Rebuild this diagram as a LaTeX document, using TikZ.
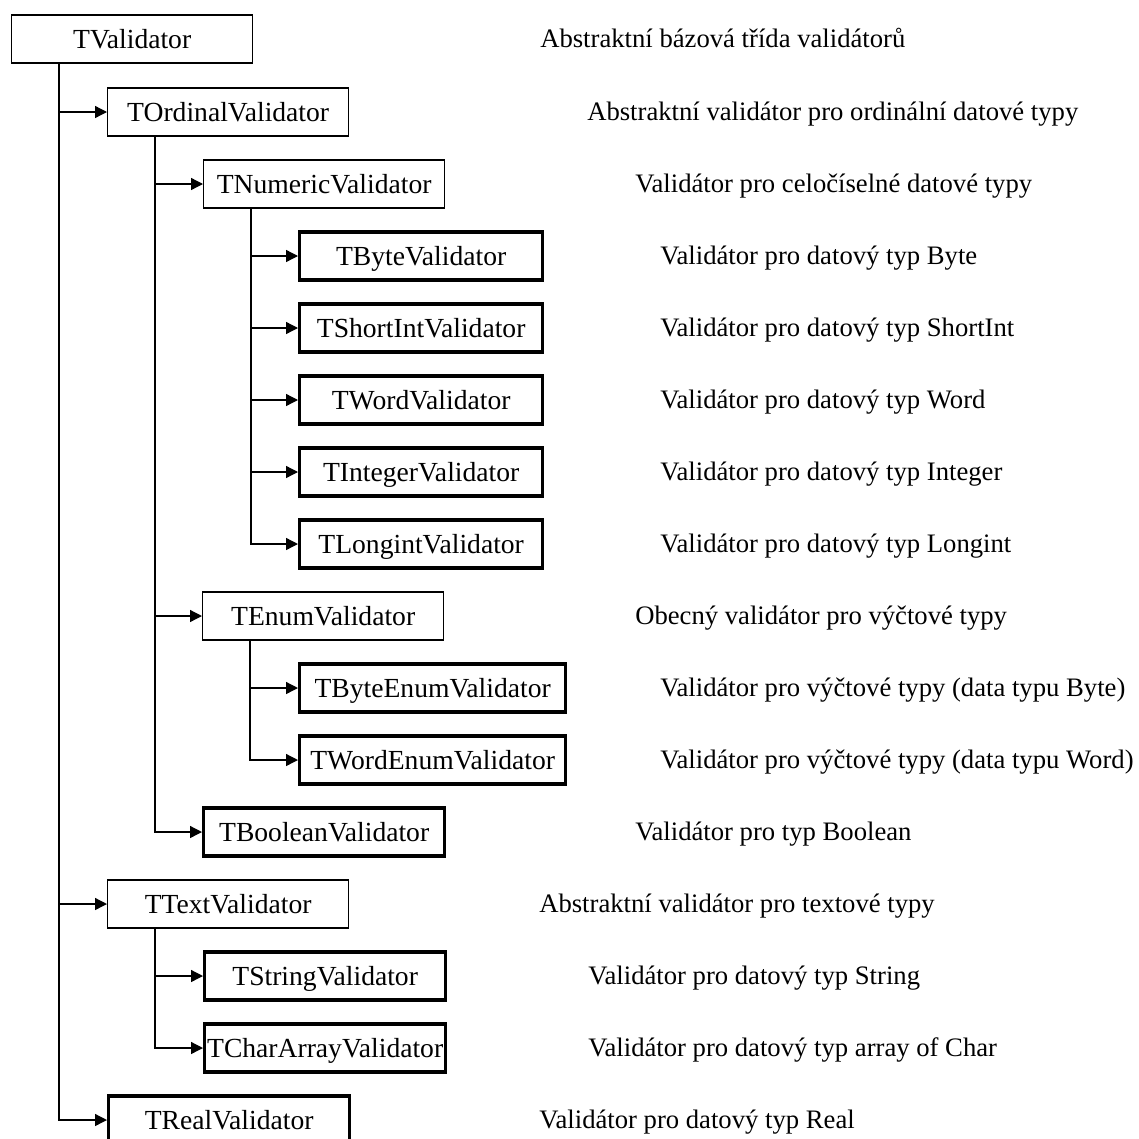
\documentclass[tikz,border=0pt]{standalone}
\usepackage{fontspec}
\setmainfont{Liberation Serif}
\usetikzlibrary{arrows.meta}

\begin{document}
\begin{tikzpicture}[x=0.75pt,y=-0.75pt,font=\fontsize{20}{24}\selectfont,
    cls/.style ={rectangle, draw, line width=1pt, anchor=west, minimum width=180.75pt, minimum height=36pt, inner sep=0pt, font=\fontsize{20.7}{24}\selectfont, text height=13.5pt, text depth=0pt},
    leaf/.style ={cls, line width=2.5pt},
    wide/.style ={leaf, minimum width=199.5pt},
    desc/.style ={anchor=west, inner sep=0pt, text height=13pt, text depth=0pt},
    inh/.style ={line width=1pt, -{Triangle[length=9pt,width=9pt]}}]
   \useasboundingbox (0,0) rectangle (1139,1139);
   \node[cls] (tv) at (11,39) {TValidator};
   \node[cls] (ord) at (107,112) {TOrdinalValidator};
   \node[cls] (num) at (203,184) {TNumericValidator};
   \node[leaf, minimum width=182.25pt] (byte) at (298,256) {TByteValidator};
   \node[leaf, minimum width=182.25pt] (short) at (298,328) {TShortIntValidator};
   \node[leaf, minimum width=182.25pt] (word) at (298,400) {TWordValidator};
   \node[leaf, minimum width=182.25pt] (int) at (298,472) {TIntegerValidator};
   \node[leaf, minimum width=182.25pt] (long) at (298,544) {TLongintValidator};
   \node[cls] (enum) at (202,616) {TEnumValidator};
   \node[wide] (benum) at (298,688) {TByteEnumValidator};
   \node[wide] (wenum) at (298,760) {TWordEnumValidator};
   \node[leaf] (bool) at (202,832) {TBooleanValidator};
   \node[cls] (txt) at (107,904) {TTextValidator};
   \node[leaf] (str) at (203,976) {TStringValidator};
   \node[leaf] (chr) at (203,1048) {TCharArrayValidator};
   \node[leaf] (real) at (107,1120) {TRealValidator};

   \node[desc] (tv-d) at (540,39) {Abstraktní bázová třída validátorů};
   \node[desc] (ord-d) at (587,112) {Abstraktní validátor pro ordinální datové typy};
   \node[desc] (num-d) at (635,184) {Validátor pro celočíselné datové typy};
   \node[desc] (byte-d) at (660,256) {Validátor pro datový typ Byte};
   \node[desc] (short-d) at (660,328) {Validátor pro datový typ ShortInt};
   \node[desc] (word-d) at (660,400) {Validátor pro datový typ Word};
   \node[desc] (int-d) at (660,472) {Validátor pro datový typ Integer};
   \node[desc] (long-d) at (660,544) {Validátor pro datový typ Longint};
   \node[desc] (enum-d) at (635,616) {Obecný validátor pro výčtové typy};
   \node[desc] (benum-d) at (660,688) {Validátor pro výčtové typy (data typu Byte)};
   \node[desc] (wenum-d) at (660,760) {Validátor pro výčtové typy (data typu Word)};
   \node[desc] (bool-d) at (635,832) {Validátor pro typ Boolean};
   \node[desc] (txt-d) at (539,904) {Abstraktní validátor pro textové typy};
   \node[desc] (str-d) at (588,976) {Validátor pro datový typ String};
   \node[desc] (chr-d) at (588,1048) {Validátor pro datový typ array of Char};
   \node[desc] (real-d) at (539,1120) {Validátor pro datový typ Real};

   \draw[inh] ([xshift=36pt]tv.south west) |- (ord);
   \draw[inh] ([xshift=36pt]tv.south west) |- (txt);
   \draw[inh] ([xshift=36pt]tv.south west) |- (real);
   \draw[inh] ([xshift=36pt]ord.south west) |- (num);
   \draw[inh] ([xshift=36pt]ord.south west) |- (enum);
   \draw[inh] ([xshift=36pt]ord.south west) |- (bool);
   \draw[inh] ([xshift=36pt]num.south west) |- (byte);
   \draw[inh] ([xshift=36pt]num.south west) |- (short);
   \draw[inh] ([xshift=36pt]num.south west) |- (word);
   \draw[inh] ([xshift=36pt]num.south west) |- (int);
   \draw[inh] ([xshift=36pt]num.south west) |- (long);
   \draw[inh] ([xshift=36pt]enum.south west) |- (benum);
   \draw[inh] ([xshift=36pt]enum.south west) |- (wenum);
   \draw[inh] ([xshift=36pt]txt.south west) |- (str);
   \draw[inh] ([xshift=36pt]txt.south west) |- (chr);
 \end{tikzpicture}
\end{document}
